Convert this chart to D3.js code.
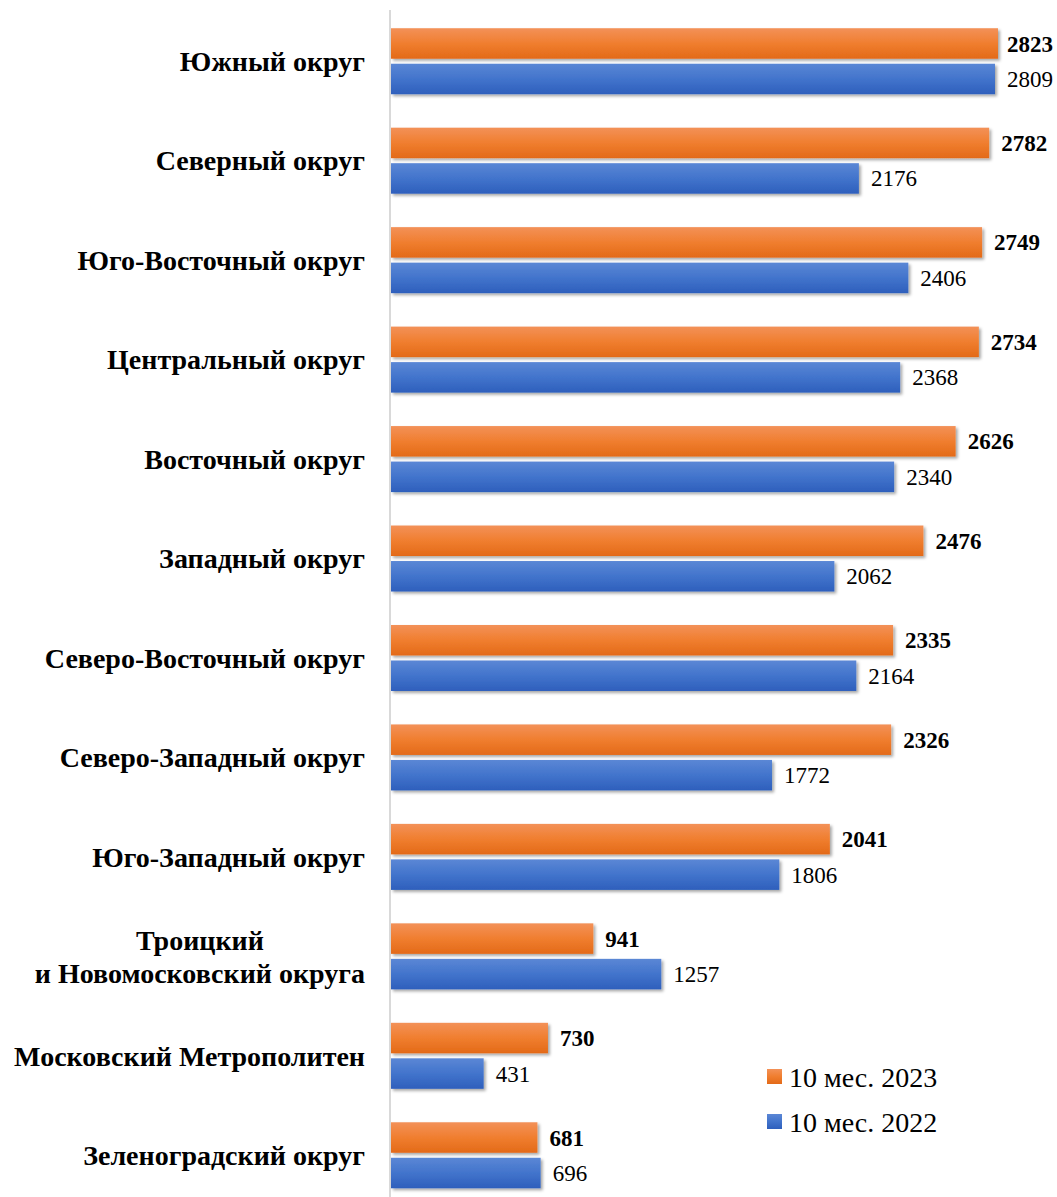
<!DOCTYPE html>
<html><head><meta charset="utf-8">
<script src="https://cdn.jsdelivr.net/npm/d3@7"></script>
<style>body{margin:0;background:#fff}svg{display:block}</style>
</head><body>
<svg id="c" width="1057" height="1197"></svg>
<script>
const categories = [
  ["Южный округ"],
  ["Северный округ"],
  ["Юго-Восточный округ"],
  ["Центральный округ"],
  ["Восточный округ"],
  ["Западный округ"],
  ["Северо-Восточный округ"],
  ["Северо-Западный округ"],
  ["Юго-Западный округ"],
  ["Троицкий", "и Новомосковский округа"],
  ["Московский Метрополитен"],
  ["Зеленоградский округ"]
];
const values2023 = [2823, 2782, 2749, 2734, 2626, 2476, 2335, 2326, 2041, 941, 730, 681];
const values2022 = [2809, 2176, 2406, 2368, 2340, 2062, 2164, 1772, 1806, 1257, 431, 696];
const seriesNames = ["10 мес. 2023", "10 мес. 2022"];

const svg = d3.select("#c");
const font = "'Liberation Serif','Times New Roman',serif";
const defs = svg.append("defs");
function grad(id, c1, c2, c3) {
  const g = defs.append("linearGradient").attr("id", id).attr("x1", 0).attr("y1", 0).attr("x2", 0).attr("y2", 1);
  g.append("stop").attr("offset", "0%").attr("stop-color", c1);
  g.append("stop").attr("offset", "50%").attr("stop-color", c2);
  g.append("stop").attr("offset", "100%").attr("stop-color", c3);
}
grad("gO", "#f39158", "#f07e2f", "#e36a18");
grad("gB", "#5b87d5", "#4274cc", "#2e5fbc");
const f = defs.append("filter").attr("id", "sh").attr("x", "-5%").attr("y", "-20%").attr("width", "115%").attr("height", "160%");
f.append("feDropShadow").attr("dx", 2).attr("dy", 2).attr("stdDeviation", 1.8).attr("flood-color", "#000").attr("flood-opacity", 0.35);

const x0 = 391;
const x = d3.scaleLinear().domain([0, 2823]).range([x0, 998]);
const y = d3.scaleBand().domain(d3.range(categories.length)).range([11.5, 1205]).paddingInner(0).paddingOuter(0);
const step = y.bandwidth();
const barH = 30.5, gap = 5;
const maxRight = 1053;

// axis line
svg.append("line").attr("x1", 390).attr("x2", 390).attr("y1", 10).attr("y2", 1197)
  .attr("stroke", "#d9d9d9").attr("stroke-width", 2);

function valueLabel(v, yy, bold) {
  const t = g.append("text").attr("y", yy).attr("dy", "0.35em")
    .attr("font-family", font).attr("font-size", 23).attr("font-weight", bold ? "bold" : "normal").attr("fill", "#000")
    .text(v);
  let xx = x(v) + 12;
  const w = t.node().getComputedTextLength();
  if (xx + w > maxRight) xx = maxRight - w;
  t.attr("x", xx);
}

const g = svg.append("g");
categories.forEach((cat, i) => {
  const cy = y(i) + step / 2;
  const topO = cy - gap / 2 - barH;
  const topB = cy + gap / 2;
  g.append("rect").attr("x", x0).attr("y", topO).attr("width", x(values2023[i]) - x0).attr("height", barH)
    .attr("fill", "url(#gO)").attr("filter", "url(#sh)");
  g.append("rect").attr("x", x0).attr("y", topB).attr("width", x(values2022[i]) - x0).attr("height", barH)
    .attr("fill", "url(#gB)").attr("filter", "url(#sh)");
  valueLabel(values2023[i], topO + barH / 2, true);
  valueLabel(values2022[i], topB + barH / 2, false);
  // category label
  const lh = 33;
  const t = g.append("text").attr("font-family", font).attr("font-size", 28).attr("font-weight", "bold")
    .attr("fill", "#000").attr("text-anchor", "middle");
  const n = cat.length;
  const spans = cat.map((line, k) => t.append("tspan").attr("y", cy + (k - (n - 1) / 2) * lh).attr("dy", "0.35em").text(line));
  let maxW = 0;
  spans.forEach(s => { maxW = Math.max(maxW, s.node().getComputedTextLength()); });
  spans.forEach(s => s.attr("x", 365 - maxW / 2));
});

// legend
const legY = [1077, 1122];
const legF = ["url(#gO)", "url(#gB)"];
seriesNames.forEach((name, k) => {
  svg.append("rect").attr("x", 767).attr("y", legY[k] - 8).attr("width", 15).attr("height", 15).attr("fill", legF[k]);
  svg.append("text").attr("x", 789).attr("y", legY[k]).attr("dy", "0.35em")
    .attr("font-family", font).attr("font-size", 28).attr("fill", "#000").text(name);
});
</script>
</body></html>
